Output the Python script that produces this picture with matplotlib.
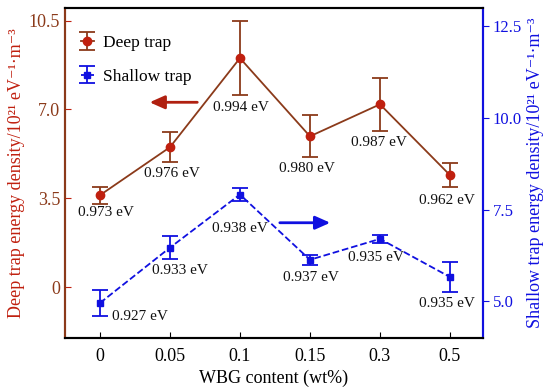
import numpy as np
import matplotlib
matplotlib.use("Agg")
import matplotlib.pyplot as plt

plt.rcParams['font.family'] = ['Liberation Serif', 'DejaVu Serif']

# data
wbg = ["0", "0.05", "0.1", "0.15", "0.3", "0.5"]
deep = [3.62, 5.51, 9.02, 5.94, 7.20, 4.41]
deep_err = [0.33, 0.60, 1.45, 0.83, 1.05, 0.47]
deep_ev = ["0.973 eV", "0.976 eV", "0.994 eV", "0.980 eV", "0.987 eV", "0.962 eV"]
shallow = [4.95, 6.46, 7.91, 6.13, 6.70, 5.66]
shallow_err = [0.36, 0.32, 0.17, 0.13, 0.11, 0.41]
shallow_ev = ["0.927 eV", "0.933 eV", "0.938 eV", "0.937 eV", "0.935 eV", "0.935 eV"]

brown = "#8b3a1a"
red = "#c0200f"
blue = "#1010e0"

x = np.arange(len(wbg))

fig = plt.figure(figsize=(5.5, 3.92), dpi=100)
ax = fig.add_axes([0.118, 0.138, 0.76, 0.842])
ax2 = ax.twinx()

ax.errorbar(x, deep, yerr=deep_err, color=brown, marker='o', ms=6, mfc=red, mec=red,
            lw=1.3, capsize=6, elinewidth=1.3, capthick=1.3, label="Deep trap", zorder=3)
ax2.errorbar(x, shallow, yerr=shallow_err, color=blue, marker='s', ms=5, ls='--',
             lw=1.3, capsize=6, elinewidth=1.3, capthick=1.3, label="Shallow trap", zorder=3)

# energy labels (offsets in pixels from the marker)
deep_off = [(6, -17), (2, -26), (1, -49), (-3, -32), (-1, -38), (-3, -25)]
for i in range(len(x)):
    ax.annotate(deep_ev[i], (x[i], deep[i]), xytext=deep_off[i], textcoords='offset pixels',
                ha='center', va='center', fontsize=11, color='#111111')
shallow_off = [(40, -13), (10, -23), (0, -34), (1, -18), (-4, -19), (-3, -26)]
for i in range(len(x)):
    ax2.annotate(shallow_ev[i], (x[i], shallow[i]), xytext=shallow_off[i], textcoords='offset pixels',
                 ha='center', va='center', fontsize=11, color='#111111')

# direction arrows
ax.annotate("", xy=(0.67, 7.28), xytext=(1.43, 7.28),
            arrowprops=dict(arrowstyle='-|>,head_length=0.9,head_width=0.4', color='#b02010', lw=2))
ax2.annotate("", xy=(3.33, 7.14), xytext=(2.53, 7.14),
             arrowprops=dict(arrowstyle='-|>,head_length=0.9,head_width=0.4', color=blue, lw=2))

ax.set_xlim(-0.5, 5.47)
ax.set_ylim(-2, 11)
ax2.set_ylim(4, 13)
ax.set_xticks(x)
ax.set_xticklabels(wbg)
ax.set_yticks([0, 3.5, 7, 10.5])
ax.set_yticklabels(["0", "3.5", "7.0", "10.5"])
ax2.set_yticks([5, 7.5, 10, 12.5])
ax2.set_yticklabels(["5.0", "7.5", "10.0", "12.5"])

ax.set_xlabel("WBG content (wt%)", fontsize=13)
ax.set_ylabel("Deep trap energy density/10²¹ eV⁻¹·m⁻³", color=red, fontsize=13)
ax2.set_ylabel("Shallow trap energy density/10²¹ eV⁻¹·m⁻³", color=blue, fontsize=13)
ax.yaxis.set_label_coords(-0.095, 0.5)
ax2.yaxis.set_label_coords(1.105, 0.5)

ax.tick_params(axis='x', direction='in', labelsize=13, length=4, pad=7)
ax.tick_params(axis='y', direction='in', colors=red, labelcolor=brown, labelsize=13, length=4)
ax2.tick_params(axis='y', direction='out', colors=blue, labelsize=12, length=4, pad=3)

for a in (ax, ax2):
    a.spines['left'].set_color(brown)
    a.spines['right'].set_color(blue)
    for s in a.spines.values():
        s.set_linewidth(1.5)

h1, l1 = ax.get_legend_handles_labels()
h2, l2 = ax2.get_legend_handles_labels()
ax2.legend(h1 + h2, l1 + l2, loc='upper left', frameon=False, fontsize=12.5,
           handlelength=0.8, handletextpad=0.5, labelspacing=1.0, bbox_to_anchor=(0.0, 0.965))

fig.savefig("out.png", dpi=100)
